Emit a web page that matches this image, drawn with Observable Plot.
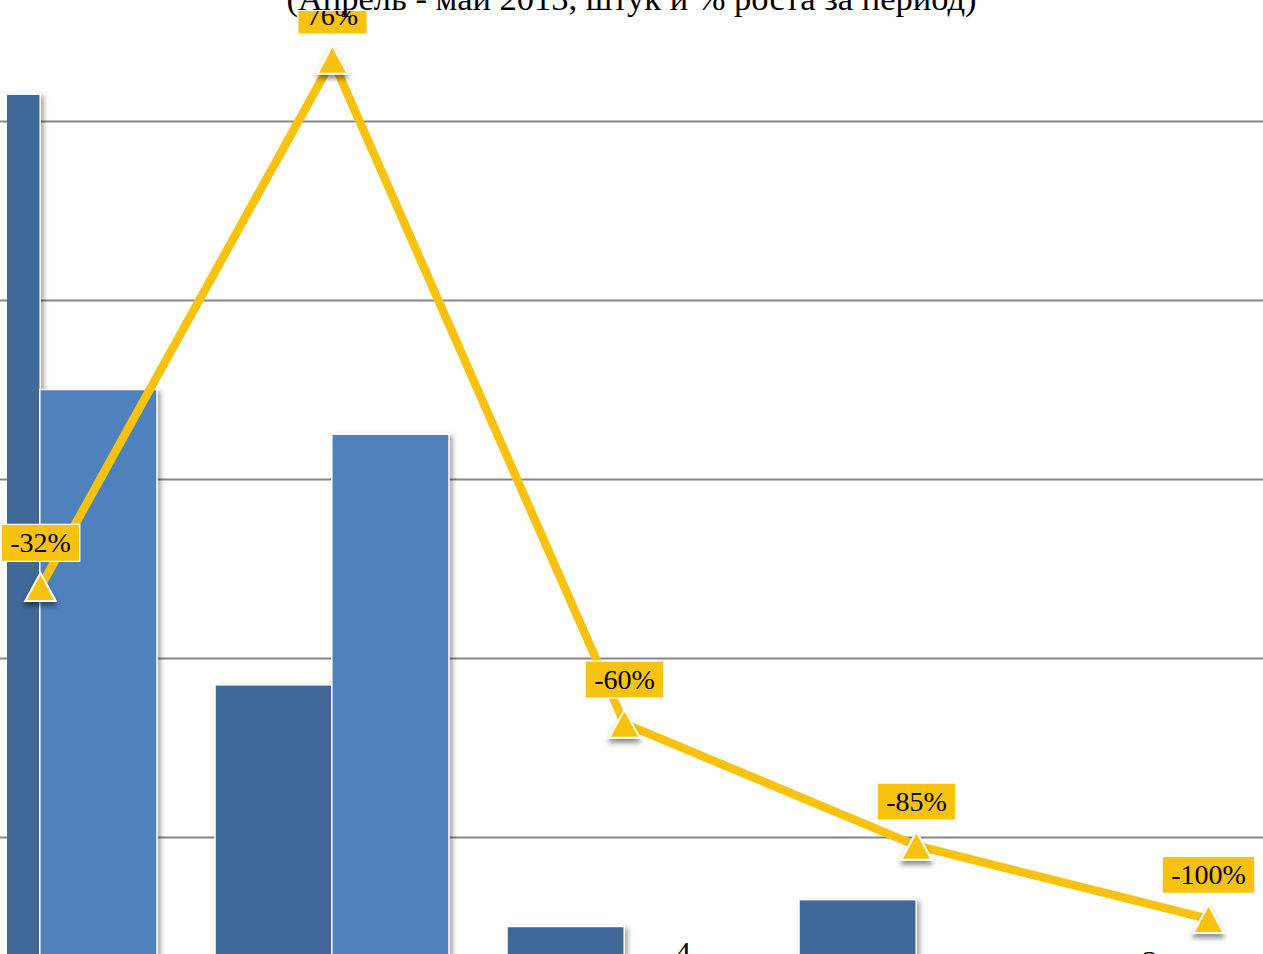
<!DOCTYPE html>
<html>
<head>
<meta charset="utf-8">
<script src="https://cdn.jsdelivr.net/npm/d3@7"></script>
<script src="https://cdn.jsdelivr.net/npm/@observablehq/plot@0.6"></script>
<style>
  body { margin: 0; background: #fff; }
  #wrap { position: relative; width: 1263px; height: 954px; overflow: hidden; background: #fff; }
  #title {
    position: absolute; top: -19px; left: 50%; transform: translateX(-50%);
    height: 30px; line-height: 34.5px; font-size: 34.5px; font-family: "Liberation Serif", "Times New Roman", serif;
    white-space: nowrap; background: #fff; padding: 0 6px; z-index: 2; color: #000;
  }
  #chart { position: absolute; left: 0; top: 0; }
</style>
</head>
<body>
<div id="wrap">
  <div id="title">(Апрель - май 2013, штук и % роста за период)</div>
  <div id="chart"></div>
</div>
<script>
// ---- data ----
const categories = ["Категория 1", "Категория 2", "Категория 3", "Категория 4", "Категория 5"];
const seriesNames = ["Апрель 2013", "Май 2013"];
const april = [103, 37, 10, 13, 3];   // штук, апрель
const may = [70, 65, 4, 2, 0];        // штук, май
const growth = [-32, 76, -60, -85, -100]; // % роста за период
const gridValues = [20, 40, 60, 80, 100, 120];
const yDomain = [0, 120];        // primary axis (штук)
const pctDomain = [-120, 100];   // secondary axis (%)

// ---- styles ----
const darkBlue = "#3F6898";
const lightBlue = "#4F81BD";
const yellow = "#F9C20F";

const rows = categories.map((c, i) => ({category: c, april: april[i], may: may[i], growth: growth[i]}));
const pctToY = d3.scaleLinear().domain(pctDomain).range(yDomain);

const triangle = {
  draw(context, size) {
    const r = Math.sqrt(size / Math.PI);
    const h = 2.4 * r, w = 1.3 * r;
    context.moveTo(0, -h / 2);
    context.lineTo(w, h / 2);
    context.lineTo(-w, h / 2);
    context.closePath();
  }
};

const plot = Plot.plot({
  width: 1263,
  height: 954,
  marginLeft: 7, marginRight: 0, marginTop: 0, marginBottom: 0,
  style: {background: "transparent"},
  x: {type: "band", domain: categories, range: [-76.8, 1324.8], paddingInner: 0.2, paddingOuter: 0, axis: null},
  y: {domain: yDomain, range: [1016, -58], axis: null},
  marks: [
    Plot.ruleY(gridValues, {stroke: "#868686", strokeWidth: 2, insetLeft: -7}),
    Plot.barY(rows, {x: "category", y: "april", fill: darkBlue, stroke: "white", strokeWidth: 1.5,
      insetRight: 116.8, clip: true, title: d => seriesNames[0] + ": " + d.april}),
    Plot.barY(rows, {x: "category", y: "may", fill: lightBlue, stroke: "white", strokeWidth: 1.5,
      insetLeft: 116.8, clip: true, title: d => seriesNames[1] + ": " + d.may}),
    Plot.line(rows, {x: "category", y: d => pctToY(d.growth), stroke: yellow, strokeWidth: 8.5,
      strokeLinejoin: "round"}),
    Plot.dot(rows, {x: "category", y: d => pctToY(d.growth), symbol: triangle, r: 11.7,
      fill: yellow, stroke: "white", strokeWidth: 2}),
    Plot.text(rows, {x: "category", y: d => pctToY(d.growth), text: d => d.growth + "%", dy: -43.5,
      fontSize: 28, fontFamily: "Liberation Serif", fill: "black"}),
    Plot.text(rows.filter(d => d.april < 10), {x: "category", y: "april", text: d => String(d.april),
      dx: -58.4, dy: -27, fontSize: 32, fontFamily: "Liberation Serif", fill: "black"}),
    Plot.text(rows.filter(d => d.may < 10), {x: "category", y: "may", text: d => String(d.may),
      dx: 58.4, dy: -27, fontSize: 32, fontFamily: "Liberation Serif", fill: "black"})
  ]
});

document.getElementById("chart").appendChild(plot);

// ---- decorations: shadows and label boxes ----
try {
  const svg = d3.select(plot);
  const groups = Array.from(plot.children).filter(n => n.tagName.toLowerCase() === "g");
  // mark order: rule, bar, bar, line, dot, text(pct), text, text
  const [gRule, gBarA, gBarM, gLine, gDot, gPct] = groups;
  const defs = svg.insert("defs", ":first-child");
  const f1 = defs.append("filter").attr("id", "barShadow").attr("x", "-10%").attr("y", "-10%").attr("width", "130%").attr("height", "130%");
  f1.append("feDropShadow").attr("dx", 3).attr("dy", 2).attr("stdDeviation", 2.5).attr("flood-color", "#000").attr("flood-opacity", 0.35);
  const f2 = defs.append("filter").attr("id", "dotShadow").attr("x", "-50%").attr("y", "-50%").attr("width", "200%").attr("height", "200%");
  f2.append("feDropShadow").attr("dx", 0).attr("dy", 4).attr("stdDeviation", 2.5).attr("flood-color", "#000").attr("flood-opacity", 0.45);

  if (gBarA) d3.select(gBarA).selectAll("rect").attr("filter", "url(#barShadow)");
  if (gBarM) d3.select(gBarM).selectAll("rect").attr("filter", "url(#barShadow)");
  if (gDot) d3.select(gDot).selectAll("path").attr("filter", "url(#dotShadow)");

  if (gPct) d3.select(gPct).selectAll("text").each(function() {
    const b = this.getBBox();
    const cy = b.y + b.height / 2;
    d3.select(this.parentNode).insert("rect", () => this)
      .attr("transform", this.getAttribute("transform"))
      .attr("x", b.x - 9).attr("y", cy - 18.5)
      .attr("width", b.width + 18).attr("height", 37)
      .attr("fill", yellow).attr("stroke", "white").attr("stroke-width", 1.2);
  });
} catch (e) { console.error(e); }
</script>
</body>
</html>
